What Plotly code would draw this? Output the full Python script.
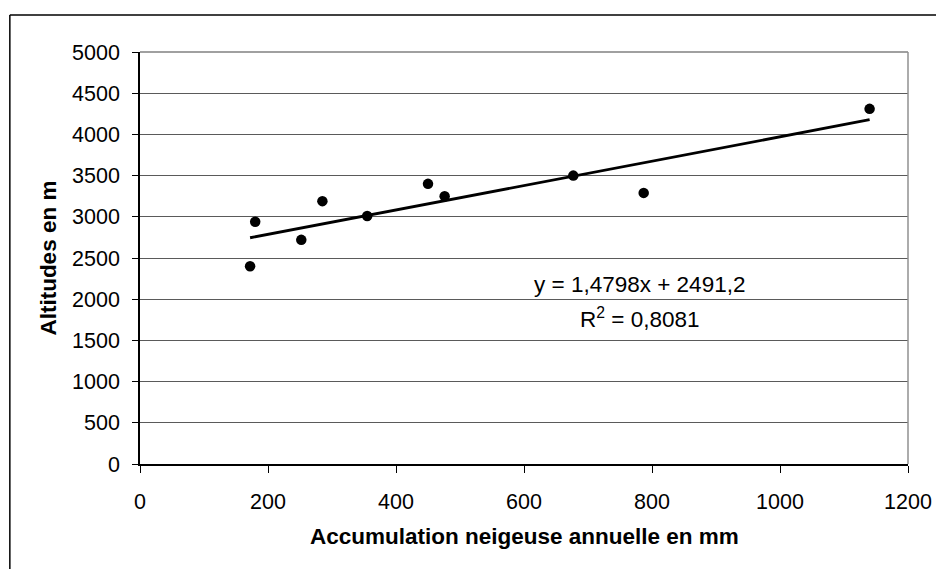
import plotly.graph_objects as go

# Data
accumulation_mm = [172, 180, 252, 285, 355, 450, 476, 677, 787, 1140]
altitude_m = [2400, 2940, 2720, 3190, 3010, 3400, 3250, 3500, 3290, 4310]
slope = 1.4798
intercept = 2491.2
r2 = 0.8081
x_ticks = [0, 200, 400, 600, 800, 1000, 1200]
y_ticks = [0, 500, 1000, 1500, 2000, 2500, 3000, 3500, 4000, 4500, 5000]

# page offset (browser body margin)
OFF = 8
W, H = 944 - OFF, 569 - OFF
plot_l, plot_r, plot_t, plot_b = 140, 913, 52, 464   # page pixels
ml = plot_l - OFF
mt = plot_t - OFF
pw = plot_r - plot_l
ph = plot_b - plot_t
mr = W - ml - pw
mb = H - mt - ph


def px_x(p):
    return (p - plot_l) / pw


def px_y(p):
    return (plot_b - p) / ph


fig = go.Figure()

tx = [min(accumulation_mm), max(accumulation_mm)]
ty = [slope * v + intercept for v in tx]
fig.add_trace(go.Scatter(x=tx, y=ty, mode="lines",
                         line=dict(color="black", width=2.8), showlegend=False,
                         hoverinfo="skip"))
fig.add_trace(go.Scatter(x=accumulation_mm, y=altitude_m, mode="markers",
                         marker=dict(color="black", size=10.5), showlegend=False))

font_main = "Liberation Sans, Arial, sans-serif"
tick_size = 21.5
title_size = 22.5

fig.update_layout(
    width=W, height=H,
    margin=dict(l=ml, r=mr, t=mt, b=mb, pad=0),
    paper_bgcolor="white", plot_bgcolor="white",
    font=dict(family=font_main, size=tick_size, color="black"),
    xaxis=dict(range=[0, 1200], tickvals=x_ticks, ticks="outside", ticklen=7,
               tickcolor="black", showline=True, linecolor="black", linewidth=1.5,
               showgrid=False, zeroline=False, ticklabelstandoff=10,
               tickfont=dict(size=tick_size)),
    yaxis=dict(range=[0, 5000], tickvals=y_ticks, ticks="outside", ticklen=6,
               tickcolor="black", showline=True, linecolor="black", linewidth=1.5,
               showgrid=True, gridcolor="#5a5a5a", gridwidth=1, zeroline=False,
               ticklabelstandoff=8,
               tickfont=dict(size=tick_size)),
)

# axis titles
fig.add_annotation(x=px_x((plot_l + plot_r) / 2), y=px_y(536), xref="paper", yref="paper",
                   text="<b>Accumulation neigeuse annuelle en mm</b>", showarrow=False,
                   font=dict(size=title_size), xanchor="center", yanchor="middle")
fig.add_annotation(x=px_x(47), y=px_y((plot_t + plot_b) / 2), xref="paper", yref="paper",
                   text="<b>Altitudes en m</b>", showarrow=False, textangle=-90,
                   font=dict(size=title_size), xanchor="center", yanchor="middle")

# plot area top/right border (gray)
fig.add_shape(type="line", xref="paper", yref="paper", x0=0, x1=1, y0=1, y1=1,
              line=dict(color="#808080", width=1.5))
fig.add_shape(type="line", xref="paper", yref="paper", x0=1, x1=1, y0=0, y1=1,
              line=dict(color="#909090", width=1.5))

# outer chart border
fig.add_shape(type="line", xref="paper", yref="paper",
              x0=px_x(9), x1=px_x(9), y0=px_y(15), y1=px_y(580),
              line=dict(color="black", width=1.5))
fig.add_shape(type="line", xref="paper", yref="paper",
              x0=px_x(9), x1=px_x(960), y0=px_y(15), y1=px_y(15),
              line=dict(color="black", width=1.5))

eq = "y = " + f"{slope:.4f}".replace(".", ",") + "x + " + f"{intercept:.1f}".replace(".", ",")
r2txt = "R<sup>2</sup> = " + f"{r2:.4f}".replace(".", ",")
fig.add_annotation(x=px_x(643), y=px_y(284), xref="paper", yref="paper",
                   text=eq, showarrow=False, font=dict(size=title_size),
                   xanchor="center", yanchor="middle")
fig.add_annotation(x=px_x(643), y=px_y(318), xref="paper", yref="paper",
                   text=r2txt, showarrow=False, font=dict(size=title_size),
                   xanchor="center", yanchor="middle")

fig.write_html("out.html")
